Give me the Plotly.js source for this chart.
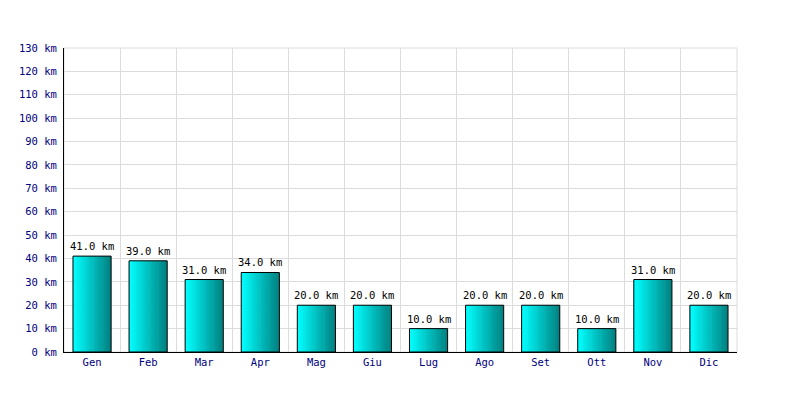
<!DOCTYPE html>
<html>
<head>
<meta charset="utf-8">
<script src="https://cdn.plot.ly/plotly-3.0.1.min.js"></script>
<style>html,body{margin:0;padding:0;background:#fff;}#chart{width:800px;height:400px;}</style>
</head>
<body>
<div id="chart"></div>
<script>
const months = ["Gen","Feb","Mar","Apr","Mag","Giu","Lug","Ago","Set","Ott","Nov","Dic"];
const distances = [41,39,31,34,20,20,10,20,20,10,31,20];
const unit = " km";

const barWidth = 0.68;
const steps = 34;
const c0 = [0,255,255], c1 = [0,128,128];
const traces = [];
const sw = barWidth / steps;
for (let i = 0; i < steps; i++) {
  const t = i / (steps - 1);
  const col = c0.map((v, k) => Math.round(v + (c1[k] - v) * t));
  traces.push({
    type: "bar", x: months, y: distances,
    width: i < steps - 1 ? sw * 1.6 : sw,
    offset: -barWidth / 2 + i * sw,
    marker: {color: `rgb(${col.join(",")})`, line: {width: 0}},
    hoverinfo: "skip", showlegend: false
  });
}
traces.push({
  type: "bar", x: months, y: distances,
  width: barWidth, offset: -barWidth / 2,
  marker: {color: "rgba(0,0,0,0)", line: {color: "#000", width: 1}},
  showlegend: false
});

const annotations = months.map((m, i) => ({
  x: m, y: distances[i], xref: "x", yref: "y",
  text: distances[i].toFixed(1) + unit, showarrow: false,
  yanchor: "bottom", yshift: 2,
  font: {family: "DejaVu Sans Mono", size: 10.5, color: "#000"}
}));

const layout = {
  width: 800, height: 400,
  margin: {l: 64, r: 63, t: 48, b: 48},
  barmode: "overlay",
  paper_bgcolor: "#fff", plot_bgcolor: "#fff",
  font: {family: "DejaVu Sans Mono", size: 10, color: "#000080"},
  annotations: annotations,
  shapes: [{type: "rect", xref: "paper", yref: "paper", x0: 0, x1: 1, y0: 0, y1: 1,
            line: {color: "#dcdcdc", width: 1}, layer: "below"}],
  xaxis: {
    type: "category", tickson: "boundaries", ticks: "",
    showgrid: true, gridcolor: "#dcdcdc", gridwidth: 1,
    showline: true, linecolor: "#000", linewidth: 1,
    tickfont: {family: "DejaVu Sans Mono", size: 10.5, color: "#000080"},
    zeroline: false
  },
  yaxis: {
    range: [0, 130], dtick: 10, tick0: 0, ticksuffix: unit,
    showgrid: true, gridcolor: "#dcdcdc", gridwidth: 1,
    showline: true, linecolor: "#000", linewidth: 1,
    zeroline: false, ticks: "", ticklabelstandoff: 4,
    tickfont: {family: "DejaVu Sans Mono", size: 10.5, color: "#000080"}
  }
};
Plotly.newPlot("chart", traces, layout, {displayModeBar: false, staticPlot: true});
</script>
</body>
</html>
